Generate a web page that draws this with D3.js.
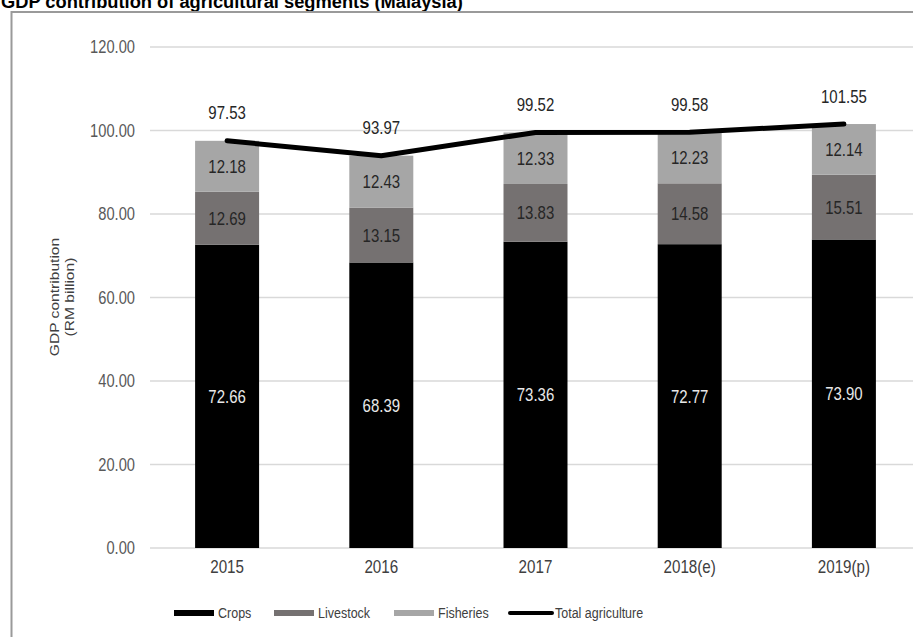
<!DOCTYPE html>
<html>
<head>
<meta charset="utf-8">
<script src="https://cdn.jsdelivr.net/npm/d3@7"></script>
<style>
  body { margin: 0; background: #fff; overflow: hidden; }
  svg { display: block; font-family: "Liberation Sans", Arial, sans-serif; }
</style>
</head>
<body>
<div id="chart"></div>
<script>
const width = 913;
const height = 637;

const years = ["2015", "2016", "2017", "2018(e)", "2019(p)"];
const crops = [72.66, 68.39, 73.36, 72.77, 73.90];
const livestock = [12.69, 13.15, 13.83, 14.58, 15.51];
const fisheries = [12.18, 12.43, 12.33, 12.23, 12.14];
const totals = [97.53, 93.97, 99.52, 99.58, 101.55];
const yTicks = [0, 20, 40, 60, 80, 100, 120];

const seriesNames = ["Crops", "Livestock", "Fisheries"];
const seriesColors = ["#000000", "#757171", "#a6a6a6"];
const labelColors = ["#e8e8e8", "#262626", "#262626"];

// the reference picture is a little stretched vertically, so text gets the same
const stretch = 1.2;
const fontFamily = "Liberation Sans, Arial, sans-serif";

const svg = d3.select("#chart").append("svg")
  .attr("width", width)
  .attr("height", height);

// title, partly cut off by the top edge like the reference
svg.append("text")
  .attr("x", 1)
  .attr("y", 8)
  .attr("font-size", 18.3)
  .attr("font-weight", "bold")
  .attr("fill", "#000")
  .text("GDP contribution of agricultural segments (Malaysia)");

// frame (only top and left show in the picture)
svg.append("path")
  .attr("d", `M11.5,${height} V12 H${width}`)
  .attr("fill", "none")
  .attr("stroke", "#9a9a9a")
  .attr("stroke-width", 2);

const x = d3.scaleBand()
  .domain(years)
  .range([150, 921])
  .paddingInner(0.585)
  .paddingOuter(0.2925);

const y = d3.scaleLinear()
  .domain([0, 120])
  .range([548, 47]);

// gridlines
svg.append("g")
  .selectAll("line")
  .data(yTicks)
  .join("line")
  .attr("x1", 150)
  .attr("x2", width)
  .attr("y1", d => y(d))
  .attr("y2", d => y(d))
  .attr("stroke", "#d9d9d9")
  .attr("stroke-width", 1.5);

// y axis labels
const yAxis = d3.axisLeft(y).tickValues(yTicks).tickFormat(d3.format(".2f")).tickSize(0).tickPadding(15);
const yG = svg.append("g").attr("transform", "translate(150,0)").call(yAxis);
yG.select(".domain").remove();
yG.selectAll("text")
  .attr("font-size", 14.7)
  .attr("fill", "#595959")
  .attr("font-family", fontFamily)
  .attr("transform", `scale(1,${stretch})`);

// x axis labels
const xAxis = d3.axisBottom(x).tickSize(0).tickPadding(10);
const xG = svg.append("g").attr("transform", `translate(0,${y(0)})`).call(xAxis);
xG.select(".domain").remove();
xG.selectAll("text")
  .attr("font-size", 15.2)
  .attr("fill", "#404040")
  .attr("font-family", fontFamily)
  .attr("transform", `scale(1,${stretch})`);

// y axis title
const yTitle = svg.append("text")
  .attr("transform", `translate(59,297) scale(1,${stretch}) rotate(-90)`)
  .attr("text-anchor", "middle")
  .attr("font-size", 13)
  .attr("fill", "#404040");
yTitle.append("tspan").attr("x", 0).attr("dy", 0).text("GDP contribution");
yTitle.append("tspan").attr("x", 0).attr("dy", 15.5).text("(RM billion)");

// stacked bars
const table = years.map((yr, i) => ({ year: yr, Crops: crops[i], Livestock: livestock[i], Fisheries: fisheries[i] }));
const stacked = d3.stack().keys(seriesNames)(table);

const layers = svg.append("g")
  .selectAll("g")
  .data(stacked)
  .join("g")
  .attr("fill", (d, i) => seriesColors[i]);

layers.selectAll("rect")
  .data(d => d)
  .join("rect")
  .attr("x", d => x(d.data.year))
  .attr("width", x.bandwidth())
  .attr("y", d => y(d[1]))
  .attr("height", d => y(d[0]) - y(d[1]));

// helper for stretched text centred on (cx, cy)
const valueSize = 15;
const stretchedText = (sel, cx, cy, size) => sel
  .attr("transform", (d, i) => `translate(${cx(d, i)},${cy(d, i) + 0.36 * size * stretch}) scale(1,${stretch})`)
  .attr("text-anchor", "middle")
  .attr("font-size", size);

const labelLayers = svg.append("g")
  .selectAll("g")
  .data(stacked)
  .join("g")
  .attr("fill", (d, i) => labelColors[i]);

labelLayers.selectAll("text")
  .data(d => d)
  .join("text")
  .call(stretchedText,
    d => x(d.data.year) + x.bandwidth() / 2,
    d => (y(d[0]) + y(d[1])) / 2,
    valueSize)
  .text(d => (d[1] - d[0]).toFixed(2));

// total line
const line = d3.line()
  .x((d, i) => x(years[i]) + x.bandwidth() / 2)
  .y(d => y(d));

svg.append("path")
  .datum(totals)
  .attr("d", line)
  .attr("fill", "none")
  .attr("stroke", "#000")
  .attr("stroke-width", 5)
  .attr("stroke-linecap", "round")
  .attr("stroke-linejoin", "round");

svg.append("g")
  .attr("fill", "#262626")
  .selectAll("text")
  .data(totals)
  .join("text")
  .call(stretchedText,
    (d, i) => x(years[i]) + x.bandwidth() / 2,
    d => y(d) - 28,
    valueSize)
  .text(d => d.toFixed(2));

// legend
const legendY = 613;
const legendItems = [
  { name: "Crops", color: seriesColors[0], x: 174, type: "bar" },
  { name: "Livestock", color: seriesColors[1], x: 274, type: "bar" },
  { name: "Fisheries", color: seriesColors[2], x: 394, type: "bar" },
  { name: "Total agriculture", color: "#000", x: 508, type: "line" }
];

const legend = svg.append("g");
legendItems.forEach(item => {
  if (item.type === "bar") {
    legend.append("rect")
      .attr("x", item.x)
      .attr("y", legendY - 3)
      .attr("width", 40)
      .attr("height", 6)
      .attr("fill", item.color);
  } else {
    legend.append("line")
      .attr("x1", item.x + 2)
      .attr("x2", item.x + 44)
      .attr("y1", legendY)
      .attr("y2", legendY)
      .attr("stroke", item.color)
      .attr("stroke-width", 4)
      .attr("stroke-linecap", "round");
  }
  legend.append("text")
    .attr("transform", `translate(${item.x + (item.type === "bar" ? 44 : 47)},${legendY + 0.35 * 12.5 * stretch}) scale(1,${stretch})`)
    .attr("font-size", 12.5)
    .attr("fill", "#404040")
    .text(item.name);
});
</script>
</body>
</html>
